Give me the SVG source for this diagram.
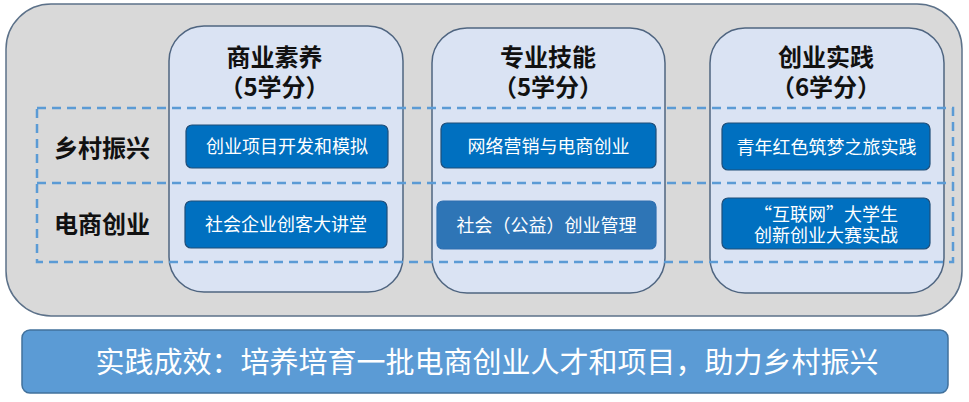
<svg xmlns="http://www.w3.org/2000/svg" width="969" height="402" viewBox="0 0 969 402">
<style>
text{font-family:"Noto Sans CJK SC","Liberation Sans",sans-serif;}
.outer{fill:#d9d9d9;stroke:#5c7189;stroke-width:1.5;}
.col{fill:#dae3f3;stroke:#4f6580;stroke-width:1.5;}
.dash{fill:none;stroke:#5b9bd5;stroke-width:2.5;stroke-dasharray:9 6;}
.box{fill:#0070c0;stroke:#1f4e79;stroke-width:1.2;}
.box2{fill:#2e75b6;stroke:#2f6fb0;stroke-width:1.2;}
.bar{fill:#5b9bd5;stroke:#41719c;stroke-width:1.5;}
.title{font-size:24px;font-weight:bold;fill:#111;text-anchor:middle;}
.lbl{font-size:18px;fill:#fff;text-anchor:middle;}
.bottom{font-size:29px;fill:#fff;text-anchor:middle;}
</style>
<rect class="outer" x="6" y="4" width="956" height="312" rx="45" ry="45"/>
<g id="col1"><rect class="col" x="169" y="26" width="234" height="266" rx="35" ry="35"/>
<text class="title" x="274.5" y="66">商业素养</text>
<text class="title" x="274.5" y="96">（5学分）</text></g>
<g id="col2"><rect class="col" x="432" y="28" width="233" height="265" rx="35" ry="35"/>
<text class="title" x="548" y="66">专业技能</text>
<text class="title" x="548" y="96">（5学分）</text></g>
<g id="col3"><rect class="col" x="710" y="28" width="234" height="265" rx="35" ry="35"/>
<text class="title" x="826" y="66">创业实践</text>
<text class="title" x="826" y="96">（6学分）</text></g>
<g id="rows">
<rect class="dash" x="37" y="108" width="916" height="154"/>
<line class="dash" x1="37" y1="183" x2="953" y2="183"/>
<text class="title" x="102" y="157">乡村振兴</text>
<text class="title" x="102" y="233">电商创业</text>
</g>
<g id="n1"><rect class="box" x="186" y="125" width="202" height="43" rx="6"/><text class="lbl" x="287" y="153">创业项目开发和模拟</text></g>
<g id="n2"><rect class="box" x="185" y="201" width="202" height="47" rx="6"/><text class="lbl" x="286" y="231">社会企业创客大讲堂</text></g>
<g id="n3"><rect class="box" x="441" y="123" width="215" height="45" rx="6"/><text class="lbl" x="548.5" y="153">网络营销与电商创业</text></g>
<g id="n4"><rect class="box2" x="437" y="201" width="219" height="48" rx="6"/><text class="lbl" x="546.5" y="232">社会（公益）创业管理</text></g>
<g id="n5"><rect class="box" x="722" y="123" width="208" height="47" rx="6"/><text class="lbl" x="826.5" y="154">青年红色筑梦之旅实践</text></g>
<g id="n6"><rect class="box" x="722" y="198" width="208" height="51" rx="6"/><text class="lbl" x="826" y="221">“互联网”大学生</text><text class="lbl" x="826" y="242">创新创业大赛实战</text></g>
<g id="connectors"></g>
<g id="result"><rect class="bar" x="22" y="330" width="926" height="63" rx="8"/>
<text class="bottom" x="487" y="373">实践成效：培养培育一批电商创业人才和项目，助力乡村振兴</text></g>
</svg>
